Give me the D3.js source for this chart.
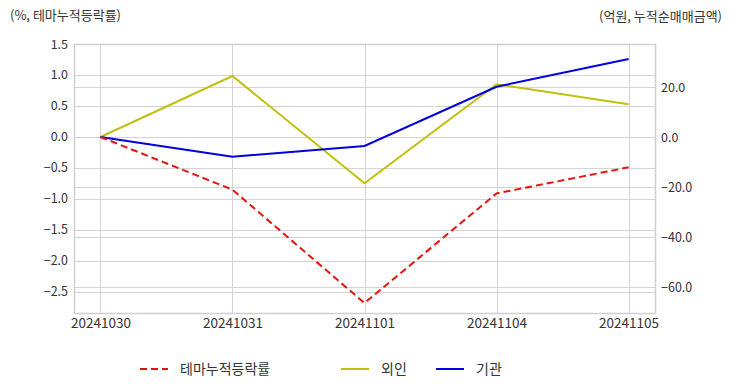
<!DOCTYPE html>
<html>
<head>
<meta charset="utf-8">
<script src="https://cdn.jsdelivr.net/npm/d3@7"></script>
<style>
	body { margin: 0; background: #fff; }
	text { font-family: "Noto Sans CJK KR", "Noto Sans", sans-serif; fill: #333; }
</style>
</head>
<body>
<div class="container"></div>
<script>
"use strict";

// chart data
const dates = ['20241030', '20241031', '20241101', '20241104', '20241105']
const themeRate = [0, -0.85, -2.68, -0.91, -0.49] // %, left axis
const foreign = [0, 24.4, -18.5, 21.1, 13.1] // 억원, right axis
const institution = [0, -7.9, -3.6, 20.1, 31.2] // 억원, right axis
const leftTicks = [1.5, 1.0, 0.5, 0.0, -0.5, -1.0, -1.5, -2.0, -2.5]
const rightTicks = [20, 0, -20, -40, -60]

const p = {
	width: 732,
	height: 392,
	left: 74,
	right: 655,
	top: 44,
	bottom: 313
}

const svg = d3.select('.container')
	.append('svg')
	.attr('width', p.width)
	.attr('height', p.height)

const x = d3.scalePoint().domain(dates).range([p.left, p.right]).padding(0.2)
const yL = d3.scaleLinear().domain([-2.84, 1.5]).range([p.bottom, p.top])
const yR = d3.scaleLinear().domain([-70.4, 37.2]).range([p.bottom, p.top])

//gridlines, both axes
const grid = svg.append('g').attr('stroke', '#d4d4d4').attr('stroke-width', 1)
leftTicks.forEach(t => {
	grid.append('line').attr('x1', p.left).attr('x2', p.right)
		.attr('y1', Math.round(yL(t)) + 0.5).attr('y2', Math.round(yL(t)) + 0.5)
})
rightTicks.forEach(t => {
	grid.append('line').attr('x1', p.left).attr('x2', p.right)
		.attr('y1', Math.round(yR(t)) + 0.5).attr('y2', Math.round(yR(t)) + 0.5)
})
dates.forEach(d => {
	grid.append('line').attr('y1', p.top).attr('y2', p.bottom)
		.attr('x1', Math.round(x(d)) + 0.5).attr('x2', Math.round(x(d)) + 0.5)
})

//plot frame
svg.append('rect')
	.attr('x', p.left + 0.5).attr('y', p.top + 0.5)
	.attr('width', p.right - p.left).attr('height', p.bottom - p.top)
	.attr('fill', 'none').attr('stroke', '#cfcfcf').attr('stroke-width', 1.5)

//axes
const axisL = svg.append('g')
	.attr('transform', `translate(${p.left},0)`)
	.call(d3.axisLeft(yL).tickValues(leftTicks).tickFormat(d3.format('.1f')).tickSize(0).tickPadding(6))
const axisR = svg.append('g')
	.attr('transform', `translate(${p.right},0)`)
	.call(d3.axisRight(yR).tickValues(rightTicks).tickFormat(d3.format('.1f')).tickSize(0).tickPadding(6))
const axisB = svg.append('g')
	.attr('transform', `translate(0,${p.bottom})`)
	.call(d3.axisBottom(x).tickSize(0).tickPadding(5))
;[axisL, axisR, axisB].forEach(a => {
	a.select('.domain').remove()
	a.selectAll('text').attr('fill', '#333')
})
axisL.selectAll('text').style('font-size', '12.5px')
axisR.selectAll('text').style('font-size', '12.5px')
axisB.selectAll('text').style('font-size', '13.5px')

//lines
const lineL = d3.line().x((d, i) => x(dates[i])).y(d => yL(d))
const lineR = d3.line().x((d, i) => x(dates[i])).y(d => yR(d))

svg.append('path').datum(foreign)
	.attr('d', lineR).attr('fill', 'none')
	.attr('stroke', '#c0c010').attr('stroke-width', 2)
svg.append('path').datum(institution)
	.attr('d', lineR).attr('fill', 'none')
	.attr('stroke', '#0000e0').attr('stroke-width', 2)
svg.append('path').datum(themeRate)
	.attr('d', lineL).attr('fill', 'none')
	.attr('stroke', '#e8120c').attr('stroke-width', 2).attr('stroke-dasharray', '7,4')

//axis titles
svg.append('text').attr('x', 10).attr('y', 20)
	.style('font-size', '13px').text('(%, 테마누적등락률)')
svg.append('text').attr('x', 722).attr('y', 21).attr('text-anchor', 'end')
	.style('font-size', '13px').text('(억원, 누적순매매금액)')

//legend
const legend = [
	{ name: '테마누적등락률', color: '#e8120c', dash: '7,4', x: 140 },
	{ name: '외인', color: '#c0c010', dash: null, x: 341 },
	{ name: '기관', color: '#0000e0', dash: null, x: 436 }
]
legend.forEach(l => {
	svg.append('line')
		.attr('x1', l.x).attr('x2', l.x + 28).attr('y1', 369).attr('y2', 369)
		.attr('stroke', l.color).attr('stroke-width', 2)
		.attr('stroke-dasharray', l.dash)
	svg.append('text').attr('x', l.x + 40).attr('y', 374)
		.style('font-size', '14px').text(l.name)
})
</script>
</body>
</html>
